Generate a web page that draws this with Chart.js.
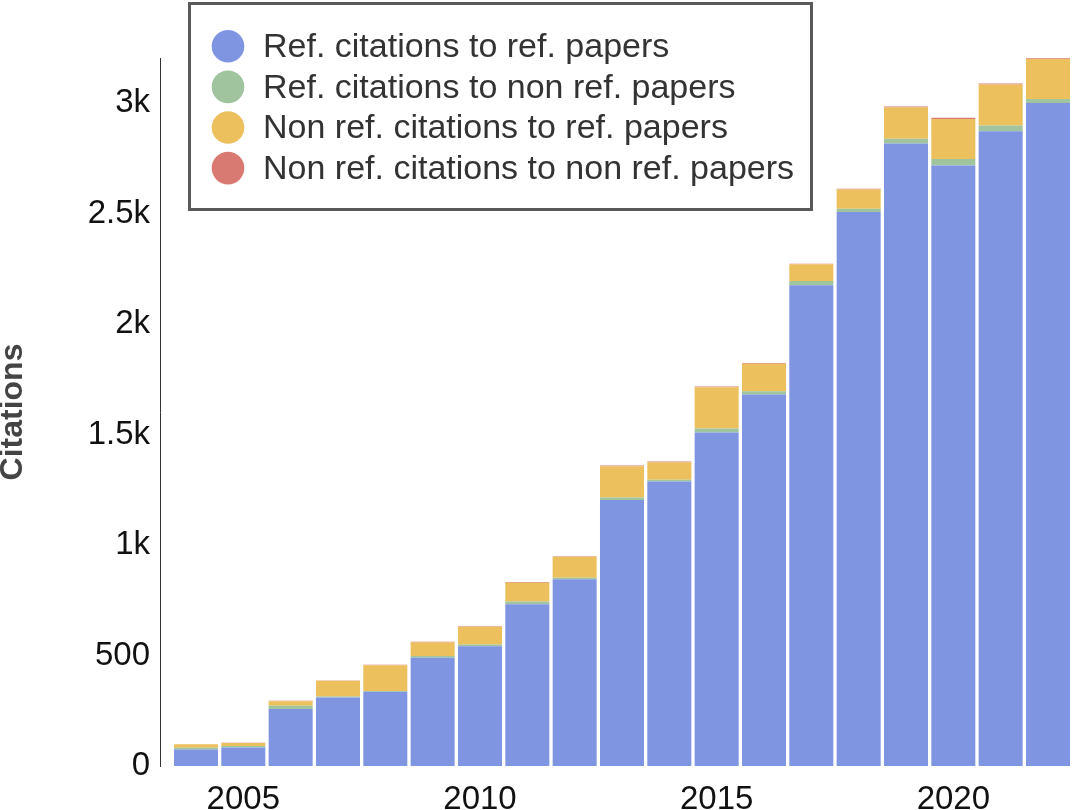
<!DOCTYPE html>
<html><head><meta charset="utf-8">
<script src="https://cdn.jsdelivr.net/npm/chart.js@4.4.1/dist/chart.umd.min.js"></script>
<style>html,body{margin:0;padding:0;background:#fff}#wrap{width:1072px;height:810px;position:relative}</style>
</head><body><div id="wrap"><canvas id="c" width="1072" height="810"></canvas></div>
<script>
const years = [2004,2005,2006,2007,2008,2009,2010,2011,2012,2013,2014,2015,2016,2017,2018,2019,2020,2021,2022];
const refToRef       = [75, 84, 258, 310, 336, 490, 542, 732, 845, 1204, 1288, 1510, 1682, 2176, 2508, 2818, 2718, 2873, 3001];
const refToNonRef    = [8, 6, 15, 5, 4, 8, 8, 13, 7, 11, 8, 18, 14, 20, 15, 21, 30, 27, 18];
const nonRefToRef    = [15, 14, 20, 71, 116, 61, 80, 85, 95, 142, 79, 187, 125, 75, 87, 142, 181, 185, 181];
const nonRefToNonRef = [1, 1, 2, 1, 2, 3, 3, 3, 3, 3, 3, 3, 3, 3, 3, 4, 5, 5, 4];
const seriesLabels = ['Ref. citations to ref. papers','Ref. citations to non ref. papers','Non ref. citations to ref. papers','Non ref. citations to non ref. papers'];
const seriesColors = ['#7f95e1','#9fc49e','#ecc05c','#d97a72'];
const xTickValues = [2005, 2010, 2015, 2020];
const yTickValues = [0, 500, 1000, 1500, 2000, 2500, 3000];
const yMax = 3205;

const FONT = '"Liberation Sans", Arial, sans-serif';
const seriesValues = [refToRef, refToNonRef, nonRefToRef, nonRefToNonRef];

const datasets = seriesValues.map((vals, i) => ({
  label: seriesLabels[i],
  data: years.map((yr, j) => ({x: yr, y: vals[j]})),
  backgroundColor: seriesColors[i],
  borderWidth: 0,
  stack: 'all',
  categoryPercentage: 0.93,
  barPercentage: 1.0
}));

const boxLegend = {
  id: 'boxLegend',
  afterDraw(chart) {
    const ctx = chart.ctx;
    ctx.save();
    ctx.fillStyle = '#fff';
    ctx.fillRect(189, 3, 623, 207);
    ctx.lineWidth = 3;
    ctx.strokeStyle = '#595959';
    ctx.strokeRect(189.5, 3.5, 622, 206);
    chart.data.datasets.forEach((ds, i) => {
      const cy = 46.3 + i * 40.6;
      ctx.beginPath();
      ctx.arc(228, cy, 16.3, 0, Math.PI * 2);
      ctx.fillStyle = ds.backgroundColor;
      ctx.fill();
      ctx.fillStyle = '#333';
      ctx.font = '34px ' + FONT;
      ctx.textBaseline = 'alphabetic';
      ctx.textAlign = 'left';
      ctx.fillText(ds.label, 263, cy + 10.8);
    });
    ctx.restore();
  }
};

new Chart(document.getElementById('c'), {
  type: 'bar',
  data: { datasets },
  options: {
    responsive: false,
    animation: false,
    devicePixelRatio: 1,
    layout: { padding: { top: 58, left: 0, right: 0, bottom: 0 } },
    plugins: { legend: { display: false }, tooltip: { enabled: false } },
    scales: {
      x: {
        type: 'linear',
        offset: false,
        min: 2003.24,
        max: 2022.507,
        grid: { display: false, drawTicks: false, offset: false },
        border: { display: false },
        ticks: { padding: 14, color: '#111', font: { family: FONT, size: 33 }, callback: v => String(v) },
        afterBuildTicks: s => { s.ticks = xTickValues.map(v => ({ value: v })); },
        afterFit: s => { s.height = 44; }
      },
      y: {
        stacked: true,
        max: yMax,
        grid: { display: false, drawTicks: false },
        border: { display: true, color: '#333', width: 1 },
        ticks: {
          padding: 10, color: '#111',
          font: { family: FONT, size: 33 },
          callback: v => v === 0 ? '0' : (v < 1000 ? String(v) : (v / 1000) + 'k')
        },
        afterBuildTicks: s => { s.ticks = yTickValues.map(v => ({ value: v })); },
        title: { display: true, text: 'Citations', color: '#444', padding: 0,
          font: { family: FONT, size: 32, weight: 'bold', lineHeight: 0.85 } },
        afterFit: s => { s.width = 160; }
      }
    }
  },
  plugins: [boxLegend]
});
</script>
</body></html>
